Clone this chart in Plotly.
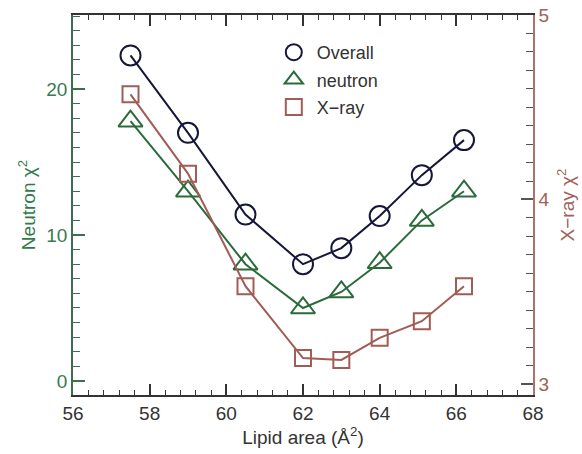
import plotly.graph_objects as go

lipid_area = [57.5, 59.0, 60.5, 62.0, 63.0, 64.0, 65.1, 66.2]
overall_chi2 = [22.3, 17.0, 11.4, 8.0, 9.1, 11.3, 14.1, 16.5]
neutron_chi2 = [17.8, 13.0, 8.0, 5.0, 6.1, 8.1, 11.0, 13.0]
xray_chi2 = [4.57, 4.14, 3.53, 3.14, 3.13, 3.25, 3.34, 3.53]

NAVY = "#15163a"
GREEN = "#2b6b3a"
BROWN = "#a05c55"
FONT = "Liberation Sans"

fig = go.Figure()
fig.add_trace(go.Scatter(x=lipid_area, y=overall_chi2, mode="lines+markers", yaxis="y",
                         line=dict(color=NAVY, width=2),
                         marker=dict(symbol="circle-open", size=20, color=NAVY, line=dict(width=2)),
                         showlegend=False))
fig.add_trace(go.Scatter(x=lipid_area, y=neutron_chi2, mode="lines+markers", yaxis="y",
                         line=dict(color=GREEN, width=2),
                         marker=dict(symbol="triangle-up-open", size=21, color=GREEN, line=dict(width=2)),
                         showlegend=False))
fig.add_trace(go.Scatter(x=lipid_area, y=xray_chi2, mode="lines+markers", yaxis="y2",
                         line=dict(color=BROWN, width=2),
                         marker=dict(symbol="square-open", size=16, color=BROWN, line=dict(width=2)),
                         showlegend=False))

# legend entries (markers only)
for name, sym, col, grp in [("Overall", "circle-open", NAVY, "a"),
                            ("neutron", "triangle-up-open", GREEN, "b"),
                            ("X\u2212ray", "square-open", BROWN, "c")]:
    fig.add_trace(go.Scatter(x=[None], y=[None], mode="markers", name=name, legendgroup=grp,
                             marker=dict(symbol=sym, size=16, color=col, line=dict(width=2))))

fig.update_layout(
    width=582, height=454,
    margin=dict(l=73, r=49, t=15, b=59, autoexpand=False),
    paper_bgcolor="white", plot_bgcolor="white",
    font=dict(family=FONT, size=18, color="#333333"),
    legend=dict(x=0.43, y=0.95, xanchor="left", yanchor="top", bgcolor="rgba(0,0,0,0)",
                font=dict(size=18, color="#333333"), tracegroupgap=1, itemsizing="trace",
                itemwidth=36),
    xaxis=dict(range=[56, 68], dtick=2, tick0=56, showgrid=False, zeroline=False, automargin=False,
               showline=True, linecolor="#333333", linewidth=1.5, mirror="ticks",
               ticks="inside", ticklen=11, tickwidth=1.5, tickcolor="#333333",
               minor=dict(dtick=0.4, tick0=56, ticks="inside", ticklen=5, tickwidth=1.2, tickcolor="#333333"),
               tickfont=dict(size=19, color="#333333"),
               title=dict(text="Lipid area (Å<sup>2</sup>)", font=dict(size=19, color="#333333"), standoff=6)),
    yaxis=dict(range=[-0.96, 25.07], dtick=10, tick0=0, showgrid=False, zeroline=False, automargin=False,
               showline=True, linecolor="#3e6e52", linewidth=1.5,
               ticks="inside", ticklen=12, tickwidth=1.5, tickcolor="#3e6e52",
               minor=dict(dtick=1, tick0=0, ticks="inside", ticklen=7, tickwidth=1.2, tickcolor="#3e6e52"),
               tickfont=dict(size=19, color="#3a7a52"),
               title=dict(text="Neutron χ<sup>2</sup>", font=dict(size=19, color="#2f7a4a"), standoff=6)),
    yaxis2=dict(range=[2.94, 5.0], dtick=1, tick0=3, overlaying="y", side="right", automargin=False,
                showgrid=False, zeroline=False,
                showline=True, linecolor="#b07070", linewidth=1.5,
                ticks="inside", ticklen=12, tickwidth=1.5, tickcolor="#555555",
                minor=dict(dtick=0.1, tick0=3, ticks="inside", ticklen=7, tickwidth=1.2, tickcolor="#555555"),
                tickfont=dict(size=19, color="#a0605a"),
                title=dict(text="X\u2212ray χ<sup>2</sup>", font=dict(size=19, color="#a0605a"), standoff=12)),
)

fig.write_html("out.html")
